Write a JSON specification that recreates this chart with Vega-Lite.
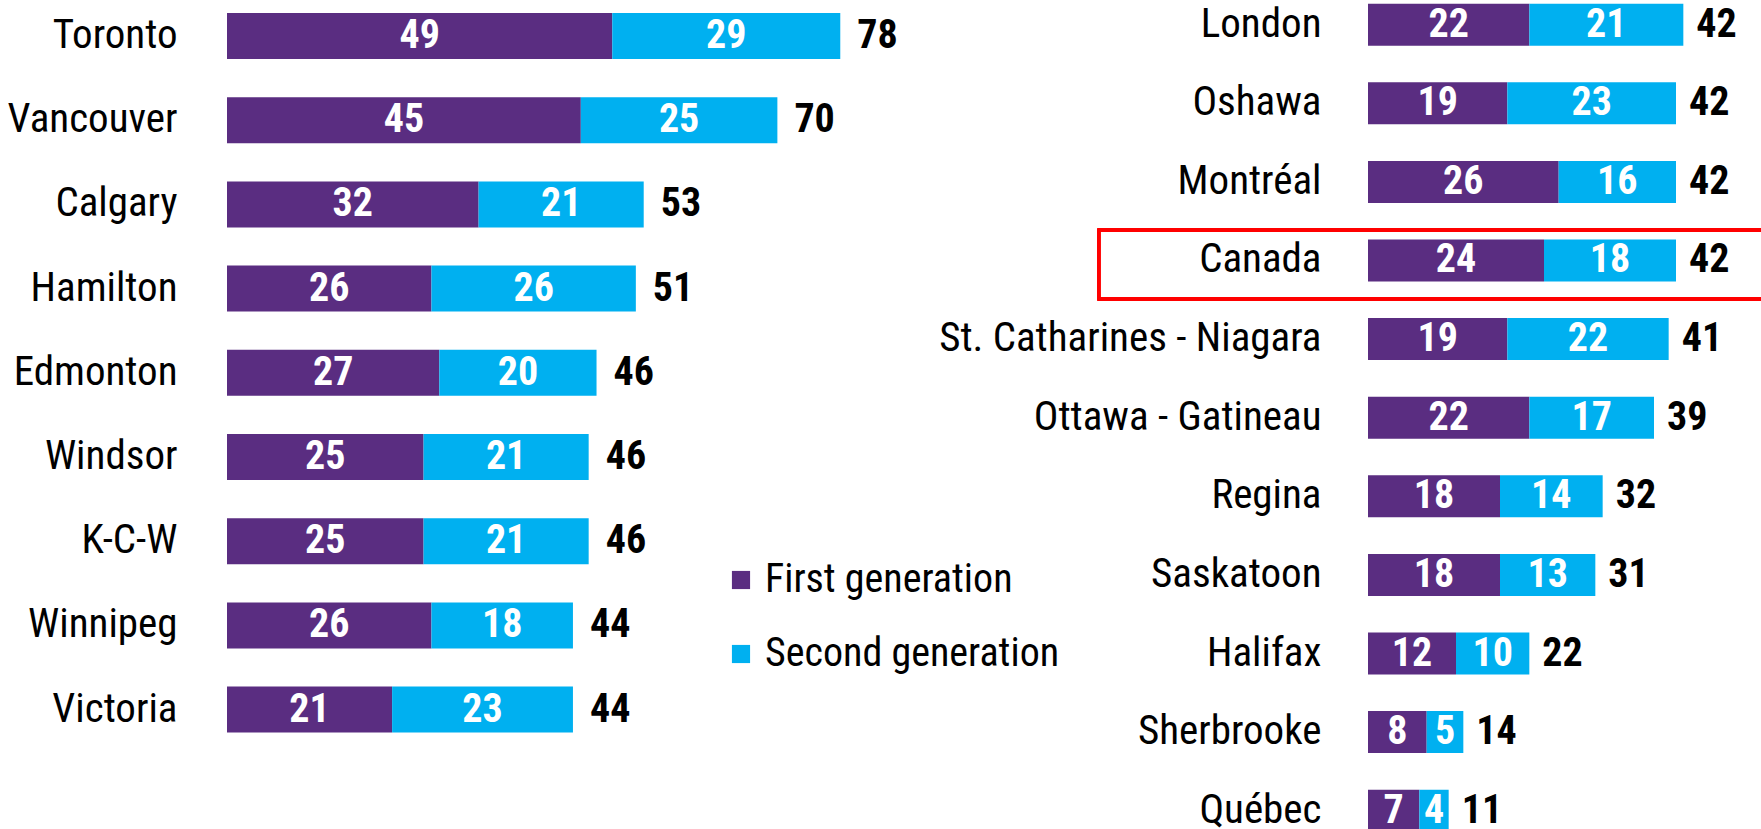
{
  "$schema": "https://vega.github.io/schema/vega-lite/v6.json",
  "background": "white",
  "padding": {"left": 7, "top": 0, "right": 0, "bottom": 0},
  "bounds": "flush",
  "spacing": 512,
  "datasets": {
    "left": [
      {"city": "Toronto", "gen": "First generation", "v": 49, "total": 78},
      {"city": "Toronto", "gen": "Second generation", "v": 29, "total": 78},
      {"city": "Vancouver", "gen": "First generation", "v": 45, "total": 70},
      {"city": "Vancouver", "gen": "Second generation", "v": 25, "total": 70},
      {"city": "Calgary", "gen": "First generation", "v": 32, "total": 53},
      {"city": "Calgary", "gen": "Second generation", "v": 21, "total": 53},
      {"city": "Hamilton", "gen": "First generation", "v": 26, "total": 51},
      {"city": "Hamilton", "gen": "Second generation", "v": 26, "total": 51},
      {"city": "Edmonton", "gen": "First generation", "v": 27, "total": 46},
      {"city": "Edmonton", "gen": "Second generation", "v": 20, "total": 46},
      {"city": "Windsor", "gen": "First generation", "v": 25, "total": 46},
      {"city": "Windsor", "gen": "Second generation", "v": 21, "total": 46},
      {"city": "K-C-W", "gen": "First generation", "v": 25, "total": 46},
      {"city": "K-C-W", "gen": "Second generation", "v": 21, "total": 46},
      {"city": "Winnipeg", "gen": "First generation", "v": 26, "total": 44},
      {"city": "Winnipeg", "gen": "Second generation", "v": 18, "total": 44},
      {"city": "Victoria", "gen": "First generation", "v": 21, "total": 44},
      {"city": "Victoria", "gen": "Second generation", "v": 23, "total": 44}
    ],
    "right": [
      {"city": "London", "gen": "First generation", "v": 22, "total": 42},
      {"city": "London", "gen": "Second generation", "v": 21, "total": 42},
      {"city": "Oshawa", "gen": "First generation", "v": 19, "total": 42},
      {"city": "Oshawa", "gen": "Second generation", "v": 23, "total": 42},
      {"city": "Montréal", "gen": "First generation", "v": 26, "total": 42},
      {"city": "Montréal", "gen": "Second generation", "v": 16, "total": 42},
      {"city": "Canada", "gen": "First generation", "v": 24, "total": 42},
      {"city": "Canada", "gen": "Second generation", "v": 18, "total": 42},
      {"city": "St. Catharines - Niagara", "gen": "First generation", "v": 19, "total": 41},
      {"city": "St. Catharines - Niagara", "gen": "Second generation", "v": 22, "total": 41},
      {"city": "Ottawa - Gatineau", "gen": "First generation", "v": 22, "total": 39},
      {"city": "Ottawa - Gatineau", "gen": "Second generation", "v": 17, "total": 39},
      {"city": "Regina", "gen": "First generation", "v": 18, "total": 32},
      {"city": "Regina", "gen": "Second generation", "v": 14, "total": 32},
      {"city": "Saskatoon", "gen": "First generation", "v": 18, "total": 31},
      {"city": "Saskatoon", "gen": "Second generation", "v": 13, "total": 31},
      {"city": "Halifax", "gen": "First generation", "v": 12, "total": 22},
      {"city": "Halifax", "gen": "Second generation", "v": 10, "total": 22},
      {"city": "Sherbrooke", "gen": "First generation", "v": 8, "total": 14},
      {"city": "Sherbrooke", "gen": "Second generation", "v": 5, "total": 14},
      {"city": "Québec", "gen": "First generation", "v": 7, "total": 11},
      {"city": "Québec", "gen": "Second generation", "v": 4, "total": 11}
    ]
  },
  "resolve": {"legend": {"color": "independent"}},
  "hconcat": [
    {
      "width": 629,
      "height": 745.6,
      "data": {"name": "left"},
      "encoding": {
        "y": {
          "field": "city",
          "type": "nominal",
          "scale": {
            "domain": ["Toronto", "Vancouver", "Calgary", "Hamilton", "Edmonton", "Windsor", "K-C-W", "Winnipeg", "Victoria"],
            "paddingInner": 0.145,
            "paddingOuter": 0
          },
          "axis": {"title": null, "labelPadding": 50}
        },
        "order": {"field": "gen", "type": "nominal", "sort": "ascending"}
      },
      "layer": [
        {
          "mark": {"type": "bar", "size": 46},
          "encoding": {
            "x": {"field": "v", "type": "quantitative", "stack": "zero", "scale": {"domain": [0, 80], "nice": false}, "axis": null},
            "color": {
              "field": "gen",
              "type": "nominal",
              "scale": {"domain": ["First generation", "Second generation"], "range": ["#5A2D81", "#00B0F0"]},
              "legend": {
                "title": null,
                "orient": "none",
                "legendX": 494,
                "legendY": 560,
                "symbolType": "square",
                "symbolSize": 330,
                "symbolStrokeWidth": 0,
                "labelFontSize": 40,
                "labelFont": "Roboto Condensed, DejaVu Sans Condensed, Liberation Sans",
                "labelColor": "#000000",
                "labelLimit": 500,
                "labelOffset": 4,
                "rowPadding": 34
              }
            }
          }
        },
        {
          "mark": {"type": "text", "color": "white", "fontWeight": "bold", "fontSize": 40, "baseline": "middle", "align": "center"},
          "encoding": {
            "x": {"field": "v", "type": "quantitative", "stack": "zero", "bandPosition": 0.5},
            "detail": {"field": "gen"},
            "text": {"field": "v", "type": "quantitative"}
          }
        },
        {
          "mark": {"type": "text", "color": "#000000", "fontWeight": "bold", "fontSize": 40, "baseline": "middle", "align": "left", "dx": 17},
          "encoding": {
            "x": {"field": "v", "type": "quantitative", "stack": "zero"},
            "detail": {"field": "gen"},
            "text": {"condition": {"test": "datum.gen === 'Second generation'", "field": "total", "type": "quantitative"}, "value": ""}
          }
        }
      ]
    },
    {
      "width": 396,
      "height": 835.4,
      "data": {"name": "right"},
      "encoding": {
        "y": {
          "field": "city",
          "type": "nominal",
          "scale": {
            "domain": ["London", "Oshawa", "Montréal", "Canada", "St. Catharines - Niagara", "Ottawa - Gatineau", "Regina", "Saskatoon", "Halifax", "Sherbrooke", "Québec"],
            "paddingInner": 0.372,
            "paddingOuter": 0
          },
          "axis": {"title": null, "labelPadding": 47}
        }
      },
      "layer": [
        {
          "mark": {"type": "bar", "size": 42},
          "encoding": {
            "x": {"field": "v", "type": "quantitative", "stack": "zero", "scale": {"domain": [0, 54], "nice": false}, "axis": null},
            "color": {
              "field": "gen",
              "type": "nominal",
              "scale": {"domain": ["First generation", "Second generation"], "range": ["#5A2D81", "#00B0F0"]},
              "legend": null
            },
            "order": {"field": "gen", "type": "nominal", "sort": "ascending"}
          }
        },
        {
          "mark": {"type": "text", "color": "white", "fontWeight": "bold", "fontSize": 40, "baseline": "middle", "align": "center"},
          "encoding": {
            "x": {"field": "v", "type": "quantitative", "stack": "zero", "bandPosition": 0.5},
            "detail": {"field": "gen"},
            "order": {"field": "gen", "type": "nominal", "sort": "ascending"},
            "text": {"field": "v", "type": "quantitative"}
          }
        },
        {
          "mark": {"type": "text", "color": "#000000", "fontWeight": "bold", "fontSize": 40, "baseline": "middle", "align": "left", "dx": 13},
          "encoding": {
            "x": {"field": "v", "type": "quantitative", "stack": "zero"},
            "detail": {"field": "gen"},
            "order": {"field": "gen", "type": "nominal", "sort": "ascending"},
            "text": {"condition": {"test": "datum.gen === 'Second generation'", "field": "total", "type": "quantitative"}, "value": ""}
          }
        },
        {
          "mark": {"type": "bar", "size": 69, "filled": false, "color": "#FF0000", "strokeWidth": 2.5, "yOffset": 4},
          "encoding": {
            "x": {"datum": -36.7, "type": "quantitative"},
            "x2": {"datum": 54},
            "y": {"datum": "Canada", "type": "nominal"}
          }
        }
      ]
    }
  ],
  "config": {
    "view": {"stroke": null},
    "font": "Roboto Condensed, DejaVu Sans Condensed, Liberation Sans",
    "text": {"font": "Roboto Condensed, DejaVu Sans Condensed, Liberation Sans"},
    "axis": {
      "domain": false,
      "ticks": false,
      "grid": false,
      "labelFont": "Roboto Condensed, DejaVu Sans Condensed, Liberation Sans",
      "labelFontSize": 41,
      "labelColor": "#000000",
      "labelLimit": 1000
    }
  }
}
